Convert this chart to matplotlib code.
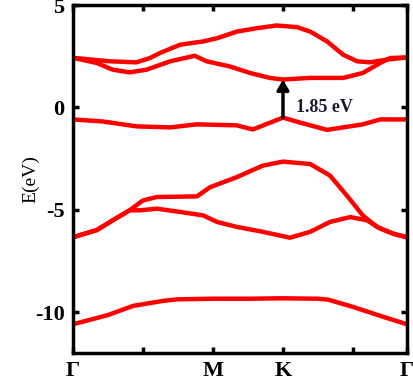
import numpy as np
import matplotlib.pyplot as plt

# k-path coordinate (Gamma - M - K - Gamma), one unit per minor tick
xlim = (0, 4.77)
xticks = [0, 1, 2, 3, 4, 4.77]
xlabels = ['Γ', '', 'M', 'K', '', 'Γ']
yticks = [5, 0, -5, -10]

# bands
k1 = [0, 0.5, 0.86, 1.3, 1.5, 2.0, 2.5, 3.0, 3.5, 3.65, 4.0, 4.4, 4.77]
e1 = [-10.6, -10.15, -9.7, -9.45, -9.38, -9.35, -9.35, -9.33, -9.35, -9.4, -9.75, -10.2, -10.6]

k2 = [0, 0.34, 0.57, 0.81, 1.0, 1.2, 1.77, 1.96, 2.34, 2.71, 3.0, 3.39, 3.67, 3.91, 4.14, 4.34, 4.57, 4.77]
e2 = [-6.35, -6.0, -5.52, -5.03, -4.55, -4.38, -4.35, -3.9, -3.41, -2.85, -2.65, -2.77, -3.33, -4.3, -5.28, -5.84, -6.17, -6.35]

k3 = [0, 0.34, 0.57, 0.81, 0.96, 1.2, 1.53, 1.86, 2.06, 2.34, 2.71, 3.1, 3.39, 3.67, 3.96, 4.2, 4.39, 4.57, 4.77]
e3 = [-6.35, -6.0, -5.52, -5.03, -5.03, -4.95, -5.11, -5.28, -5.6, -5.84, -6.08, -6.37, -6.08, -5.6, -5.36, -5.52, -5.92, -6.17, -6.35]

k4 = [0, 0.43, 0.91, 1.39, 1.77, 2.34, 2.57, 2.86, 3.0, 3.24, 3.63, 4.14, 4.39, 4.77]
e4 = [-0.59, -0.69, -0.93, -0.98, -0.83, -0.88, -1.08, -0.69, -0.5, -0.74, -1.1, -0.83, -0.59, -0.59]

k5 = [0, 0.34, 0.57, 0.81, 1.05, 1.39, 1.74, 1.91, 2.24, 2.53, 2.81, 3.0, 3.39, 3.86, 4.14, 4.39, 4.53, 4.77]
e5 = [2.42, 2.17, 1.84, 1.71, 1.84, 2.25, 2.52, 2.25, 2.0, 1.68, 1.44, 1.36, 1.44, 1.44, 1.68, 2.17, 2.41, 2.44]

k6 = [0, 0.53, 0.91, 1.1, 1.24, 1.53, 1.86, 2.06, 2.34, 2.63, 2.91, 3.2, 3.39, 3.63, 3.86, 4.06, 4.24, 4.48, 4.77]
e6 = [2.42, 2.25, 2.2, 2.41, 2.65, 3.06, 3.22, 3.38, 3.7, 3.87, 4.0, 3.92, 3.7, 3.22, 2.57, 2.25, 2.2, 2.33, 2.44]

gap_k = 3.0
vbm, cbm = -0.5, 1.36
gap_text = '1.85 eV'

plt.rcParams['font.family'] = ['Liberation Serif', 'DejaVu Serif']
plt.rcParams['font.weight'] = 'bold'

fig = plt.figure(figsize=(4.14, 3.87), dpi=100)
ax = fig.add_axes([0.176, 0.088, 0.807, 0.899])

for k, e in [(k1, e1), (k2, e2), (k3, e3), (k4, e4), (k5, e5), (k6, e6)]:
    ax.plot(k, e, color='#ff0000', linewidth=3.2, solid_joinstyle='round')

# band gap arrow
ax.annotate('', xy=(gap_k, cbm), xytext=(gap_k, vbm),
            arrowprops=dict(arrowstyle='-|>,head_width=0.35,head_length=0.6',
                            color='black', linewidth=2.5, shrinkA=0, shrinkB=0))
ax.text(gap_k + 0.18, 0.0, gap_text, fontsize=13, fontweight='bold',
        color='#1a1a2e', va='center', ha='left')

ax.set_xlim(*xlim)
ax.set_ylim(-12, 5)
ax.set_xticks(xticks)
ax.set_xticklabels(xlabels, fontsize=16, fontweight='bold')
ax.set_yticks(yticks)
ax.set_yticklabels([str(t) for t in yticks], fontsize=16, fontweight='bold')
ax.set_ylabel('E(eV)', fontsize=14, fontweight='normal', labelpad=-3)

ax.tick_params(direction='in', length=4, width=2.5, top=True, right=True, pad=6)
for s in ax.spines.values():
    s.set_linewidth(2.5)

fig.savefig('out.png', dpi=100)
